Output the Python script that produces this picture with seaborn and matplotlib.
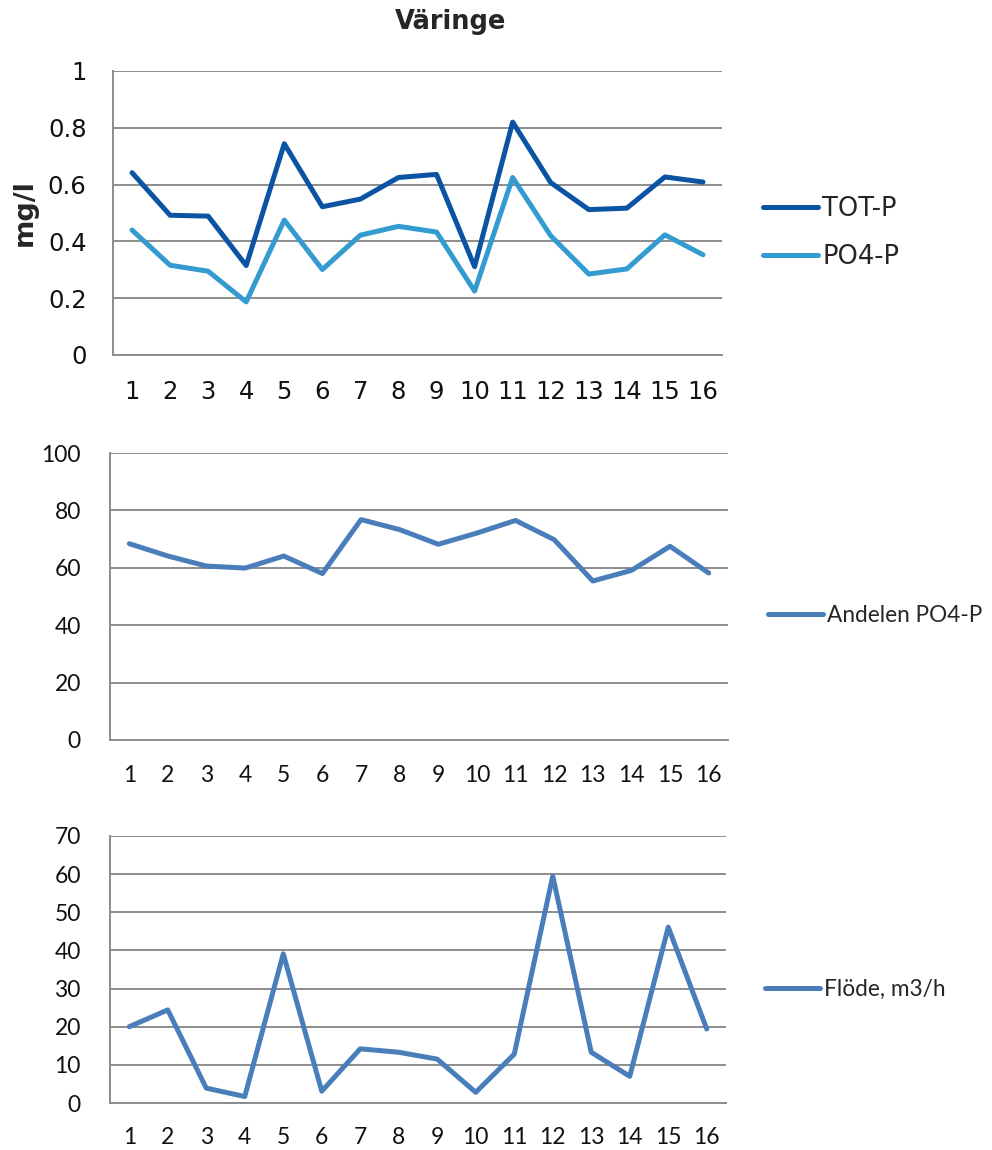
import matplotlib
matplotlib.use("Agg")
import matplotlib.pyplot as plt
import seaborn as sns
import pandas as pd
import numpy as np

categories = list(range(1, 17))
tot_p = [0.642, 0.492, 0.489, 0.315, 0.744, 0.522, 0.549, 0.625, 0.636, 0.311,
         0.820, 0.607, 0.512, 0.517, 0.627, 0.609]
po4_p = [0.440, 0.316, 0.295, 0.187, 0.475, 0.301, 0.422, 0.453, 0.433, 0.225,
         0.625, 0.420, 0.285, 0.303, 0.423, 0.353]
andel = [68.4, 64.1, 60.6, 59.9, 64.1, 58.0, 76.8, 73.3, 68.2, 72.1,
         76.5, 69.8, 55.4, 59.1, 67.5, 58.2]
flode = [20.0, 24.4, 3.9, 1.7, 39.1, 3.1, 14.2, 13.3, 11.5, 2.8,
         12.8, 59.5, 13.3, 7.0, 46.1, 19.4]

sns.set_theme(style="white")
plt.rcParams['font.family'] = ['DejaVu Sans']

W, H = 992, 1150
fig = plt.figure(figsize=(W / 100, H / 100), dpi=100)

GRID = '#8C8C8C'
C_TOT = '#0B54A4'
C_PO4 = '#339BD0'
C_B = '#4A7EBB'

def fx(px):
    return px / W

def fy(py):
    return 1 - py / H

# ---- Top panel ----
ax1 = fig.add_axes([fx(113), fy(355), fx(722 - 113), (355 - 71) / H])
df1 = pd.DataFrame({
    'x': categories * 2,
    'val': tot_p + po4_p,
    'serie': ['TOT-P'] * 16 + ['PO4-P'] * 16,
})
sns.lineplot(data=df1, x='x', y='val', hue='serie',
             palette={'TOT-P': C_TOT, 'PO4-P': C_PO4},
             linewidth=3.6, ax=ax1, legend=True)
ax1.set_xlim(0.5, 16.5)
ax1.set_ylim(0, 1)
ax1.set_yticks([0, 0.2, 0.4, 0.6, 0.8, 1])
ax1.set_yticklabels(['0', '0.2', '0.4', '0.6', '0.8', '1'])
ax1.set_xticks(categories)
ax1.set_xticklabels([str(c) for c in categories])
ax1.tick_params(axis='both', length=0, labelsize=17.5, colors='#111111')
ax1.tick_params(axis='y', pad=19)
ax1.tick_params(axis='x', pad=18)
ax1.yaxis.grid(True, color=GRID, linewidth=1.4)
ax1.set_axisbelow(True)
for s in ['top', 'right']:
    ax1.spines[s].set_visible(False)
for s in ['left', 'bottom']:
    ax1.spines[s].set_color(GRID)
    ax1.spines[s].set_linewidth(1.4)
ax1.set_xlabel('')
ax1.set_ylabel('')
fig.text(fx(25), fy(213), 'mg/l', rotation=90, ha='center', va='center',
         fontsize=19.5, fontweight='bold')
h, l = ax1.get_legend_handles_labels()
leg1 = ax1.legend(h, l, loc='center left', bbox_to_anchor=(fx(763), fy(233)),
                  bbox_transform=fig.transFigure, frameon=False,
                  fontsize=18.5, handlelength=2.14, handletextpad=0.16,
                  labelspacing=0.85, borderpad=0, borderaxespad=0)
for line in leg1.get_lines():
    line.set_linewidth(3.6)
    line.set_solid_capstyle('round')

fig.text(fx(451), fy(22), 'Väringe', ha='center', va='center',
         fontsize=18.5, fontweight='bold')

def style_lower(ax, ymax, ystep, leg_x, leg_y, xpad):
    ax.set_xlim(0.5, 16.5)
    ax.set_ylim(0, ymax)
    ax.set_yticks(np.arange(0, ymax + ystep / 2, ystep))
    ax.set_yticklabels([str(int(v)) for v in np.arange(0, ymax + ystep / 2, ystep)])
    ax.set_xticks(categories)
    ax.set_xticklabels([str(c) for c in categories])
    ax.set_xticks(np.arange(0.5, 17, 1), minor=True)
    ax.tick_params(axis='x', which='major', length=0, pad=xpad)
    ax.tick_params(axis='x', which='minor', length=8, width=1.4, color=GRID, direction='out')
    ax.tick_params(axis='y', which='major', length=8, width=1.4, color=GRID,
                   direction='out', pad=13)
    ax.tick_params(axis='both', which='major', labelsize=16.5, labelcolor='#111111')
    for t in ax.get_xticklabels() + ax.get_yticklabels():
        t.set_family(['Lato', 'DejaVu Sans'])
    ax.yaxis.grid(True, color=GRID, linewidth=1.4)
    ax.set_axisbelow(True)
    for s in ['top', 'right']:
        ax.spines[s].set_visible(False)
    for s in ['left', 'bottom']:
        ax.spines[s].set_color(GRID)
        ax.spines[s].set_linewidth(1.4)
    ax.set_xlabel('')
    ax.set_ylabel('')
    h, l = ax.get_legend_handles_labels()
    leg = ax.legend(h, l, loc='center left', bbox_to_anchor=(fx(leg_x), fy(leg_y)),
                    bbox_transform=fig.transFigure, frameon=False,
                    prop={'family': ['Lato', 'DejaVu Sans'], 'size': 16.3},
                    handlelength=2.43, handletextpad=0.18, borderpad=0,
                    borderaxespad=0)
    for line in leg.get_lines():
        line.set_linewidth(3.6)
        line.set_solid_capstyle('round')

# ---- Middle panel ----
ax2 = fig.add_axes([fx(110), fy(740), fx(728 - 110), (740 - 453) / H])
df2 = pd.DataFrame({'x': categories, 'val': andel, 'serie': ['Andelen PO4-P'] * 16})
sns.lineplot(data=df2, x='x', y='val', hue='serie', palette={'Andelen PO4-P': C_B},
             linewidth=3.6, ax=ax2)
style_lower(ax2, 100, 20, 768, 615, 18)

# ---- Bottom panel ----
ax3 = fig.add_axes([fx(110), fy(1103), fx(726 - 110), (1103 - 836) / H])
df3 = pd.DataFrame({'x': categories, 'val': flode, 'serie': ['Flöde, m3/h'] * 16})
sns.lineplot(data=df3, x='x', y='val', hue='serie', palette={'Flöde, m3/h': C_B},
             linewidth=3.6, ax=ax3)
style_lower(ax3, 70, 10, 765, 989, 17)

fig.savefig('out.png', dpi=100)
